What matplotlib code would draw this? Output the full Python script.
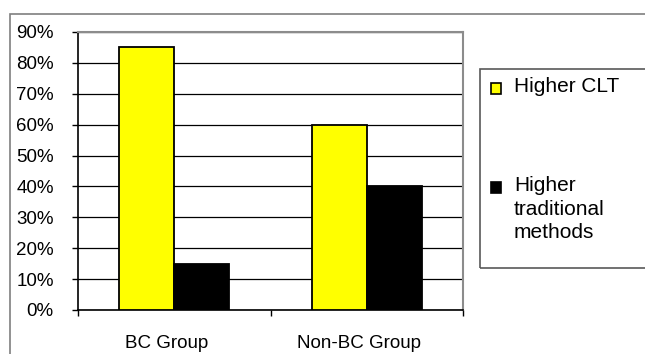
import numpy as np
import matplotlib.pyplot as plt
from matplotlib.patches import Rectangle
from matplotlib.ticker import PercentFormatter

plt.rcParams['font.family'] = ['Liberation Sans', 'DejaVu Sans']

groups = ['BC Group', 'Non-BC Group']
higher_clt = [0.85, 0.60]
higher_trad = [0.15, 0.40]
series_names = ['Higher CLT', 'Higher\ntraditional\nmethods']

W, H = 645, 354
fig = plt.figure(figsize=(W / 100, H / 100), dpi=100)

# outer chart frame (runs off the right and bottom edges)
fig.patches.append(Rectangle((10 / W, -0.1), 1.0, 1 - 14 / H + 0.1,
                             transform=fig.transFigure, fill=False,
                             edgecolor='#7f7f7f', lw=1.2))

ax = fig.add_axes([78 / W, 1 - 310 / H, 385 / W, 278 / H])
x = np.arange(len(groups))
bw = 0.287
ax.bar(x - bw / 2, higher_clt, bw, color='#ffff00', edgecolor='black', lw=1.3, zorder=3)
ax.bar(x + bw / 2, higher_trad, bw, color='black', edgecolor='black', lw=1.3, zorder=3)

ax.set_xlim(-0.5, 1.5)
ax.set_ylim(0, 0.9)
ax.set_yticks(np.arange(0, 0.91, 0.1))
ax.yaxis.set_major_formatter(PercentFormatter(1.0, decimals=0))
ax.grid(axis='y', color='black', lw=0.9, zorder=0)

# category boundaries get tick marks, names sit between them
ax.set_xticks([-0.5, 0.5, 1.5])
ax.set_xticklabels([])
ax.set_xticks(x - 0.04, minor=True)
ax.set_xticklabels(groups, minor=True, fontsize=13.5)
ax.tick_params(axis='x', which='minor', length=0, pad=18)
ax.tick_params(axis='x', which='major', direction='out', length=4, width=1)
ax.tick_params(axis='y', direction='out', length=4.5, width=1, pad=13, labelsize=13.5)

for s in ['top', 'right']:
    ax.spines[s].set_color('#8c8c8c')
    ax.spines[s].set_linewidth(1.5)
for s in ['left', 'bottom']:
    ax.spines[s].set_color('black')
    ax.spines[s].set_linewidth(1.2)

# legend panel
fig.patches.append(Rectangle((480 / W, 1 - 268 / H), 0.3, 199 / H,
                             transform=fig.transFigure, fill=False,
                             edgecolor='#595959', lw=1.2))
for color, label, ytop in [('#ffff00', series_names[0], 83), ('black', series_names[1], 182)]:
    fig.patches.append(Rectangle((491 / W, 1 - (ytop + 11) / H), 10 / W, 11 / H,
                                 transform=fig.transFigure, facecolor=color,
                                 edgecolor='black', lw=1.2))
    fig.text(514 / W, 1 - (ytop - 6) / H, label, fontsize=15, va='top', ha='left',
             linespacing=1.3)

fig.savefig('out.png', dpi=100)
